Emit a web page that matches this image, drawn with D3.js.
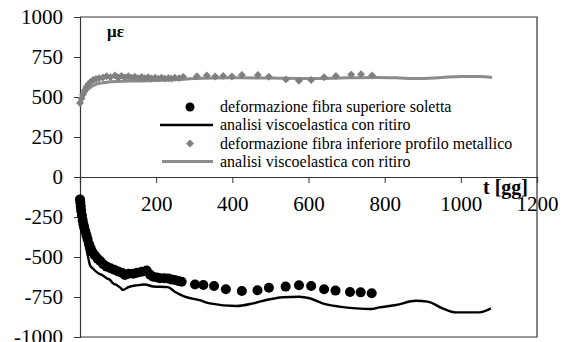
<!DOCTYPE html>
<html>
<head>
<meta charset="utf-8">
<script src="https://cdn.jsdelivr.net/npm/d3@7/dist/d3.min.js"></script>
<style>
  html, body { margin: 0; padding: 0; background: #fff; }
</style>
</head>
<body>
<svg id="chart" width="564" height="342"></svg>
<script>
// Tick values
const xTicks = [200, 400, 600, 800, 1000, 1200];
const yTicks = [1000, 750, 500, 250, 0, -250, -500, -750, -1000];

// Legend labels
const legendLabels = [
  "deformazione fibra superiore soletta",
  "analisi viscoelastica con ritiro",
  "deformazione fibra inferiore profilo metallico",
  "analisi viscoelastica con ritiro"
];

// Measured strain, top fibre of the slab: [t (days), με]
const slabMeasured = [
  [0, -140], [1, -160], [2, -185], [3, -210], [5, -240], [7, -270], [9, -295],
  [11, -315], [14, -340], [17, -365], [20, -390], [24, -420], [28, -445],
  [33, -470], [39, -490], [46, -510], [53, -525], [61, -545], [70, -560],
  [80, -570], [90, -580], [100, -590], [110, -598], [118, -612], [128, -605],
  [140, -605], [150, -598], [162, -592], [175, -585], [184, -610], [192, -623],
  [202, -628], [210, -633], [221, -633], [232, -635], [240, -640], [249, -644],
  [258, -650], [267, -655], [302, -672], [324, -675], [352, -681], [383, -702],
  [425, -712], [466, -708], [496, -692], [540, -685], [575, -677], [607, -681],
  [641, -702], [671, -710], [709, -719], [737, -721], [766, -727]
];

// Viscoelastic analysis with shrinkage, slab
const slabModel = [
  [0, -140], [5, -250], [10, -350], [16, -440], [22, -508], [26, -550],
  [35, -575], [48, -602], [60, -615], [70, -633], [79, -644], [87, -665],
  [96, -675], [105, -690], [113, -706], [127, -688], [149, -677], [170, -672],
  [192, -684], [231, -688], [249, -717], [275, -748], [314, -770], [341, -790],
  [411, -806], [454, -790], [489, -769], [533, -752], [576, -748], [603, -758],
  [637, -790], [681, -810], [725, -821], [764, -825], [786, -815], [830, -800],
  [882, -773], [913, -779], [952, -821], [987, -846], [1048, -846], [1079, -821]
];

// Measured strain, bottom fibre of the steel profile
const steelMeasured = [
  [0, 462], [4, 490], [8, 515], [12, 540], [17, 562], [22, 580], [28, 595],
  [35, 606], [42, 613], [50, 617], [60, 622], [70, 630], [80, 624], [92, 634],
  [100, 622], [109, 632], [118, 622], [127, 630], [135, 620], [144, 627],
  [153, 618], [162, 625], [170, 618], [179, 623], [188, 616], [197, 621],
  [205, 615], [214, 621], [223, 615], [232, 619], [240, 615], [249, 621],
  [260, 618], [271, 626], [307, 630], [333, 635], [355, 628], [376, 632],
  [399, 628], [425, 637], [467, 637], [496, 627], [541, 610], [575, 602],
  [607, 606], [641, 623], [672, 631], [712, 640], [738, 642], [767, 635]
];

// Viscoelastic analysis with shrinkage, steel profile
const steelModel = [
  [0, 460], [5, 485], [10, 510], [20, 545], [30, 565], [40, 578], [50, 585],
  [70, 592], [100, 597], [150, 600], [200, 603], [250, 608], [300, 615],
  [400, 620], [500, 618], [600, 615], [700, 620], [780, 622], [830, 620],
  [885, 615], [950, 622], [1000, 628], [1050, 628], [1082, 622]
];

const svg = d3.select("#chart");
const x = d3.scaleLinear().domain([0, 1200]).range([80, 537]);
const y = d3.scaleLinear().domain([-1000, 1000]).range([337, 17]);

const axisColor = "#333";
const black = "#000";
const gray = "#808080";
const fontStyle = (size, bold) =>
  `font-family:'Liberation Serif', serif; font-size:${size}px;` + (bold ? " font-weight:bold;" : "");

// Plot frame (top and right edges)
svg.append("path")
  .attr("d", `M${x(0)},${y(1000)}H${x(1200)}V${y(-1000)}H${x(0)}`)
  .attr("fill", "none").attr("stroke", axisColor).attr("stroke-width", 1.2);

// Y axis
const yAxis = svg.append("g")
  .attr("transform", `translate(${x(0)},0)`)
  .call(d3.axisLeft(y).tickValues(yTicks).tickSize(6).tickPadding(11)
    .tickFormat(d => String(d)))
  .attr("font-family", null).attr("font-size", null);
yAxis.select(".domain").attr("stroke", axisColor).attr("stroke-width", 1.2);
yAxis.selectAll(".tick line").attr("stroke", axisColor);
yAxis.selectAll("text").attr("style", fontStyle(21)).attr("fill", "#000");

// X axis through zero
const xAxis = svg.append("g")
  .attr("transform", `translate(0,${y(0)})`)
  .call(d3.axisBottom(x).tickValues(xTicks).tickSize(6).tickPadding(13)
    .tickFormat(d => String(d)))
  .attr("font-family", null).attr("font-size", null);
xAxis.select(".domain").attr("stroke", axisColor).attr("stroke-width", 1.2);
xAxis.selectAll(".tick line").attr("stroke", axisColor);
xAxis.selectAll("text").attr("style", fontStyle(21)).attr("fill", "#000");

const line = d3.line().x(d => x(d[0])).y(d => y(d[1])).curve(d3.curveMonotoneX);

// Steel profile series
svg.append("path").datum(steelModel)
  .attr("d", line).attr("fill", "none")
  .attr("stroke", "#8c8c8c").attr("stroke-width", 3);

const diamond = d3.symbol().type(d3.symbolDiamond2).size(40);
svg.append("g").selectAll("path").data(steelMeasured).join("path")
  .attr("d", diamond)
  .attr("transform", d => `translate(${x(d[0])},${y(d[1])})`)
  .attr("fill", gray);

// Slab series
svg.append("path").datum(slabModel)
  .attr("d", line).attr("fill", "none")
  .attr("stroke", black).attr("stroke-width", 2.4);

svg.append("g").selectAll("circle").data(slabMeasured).join("circle")
  .attr("cx", d => x(d[0])).attr("cy", d => y(d[1])).attr("r", 5)
  .attr("fill", black);

// Legend
const legend = svg.append("g");
const rowY = [107, 125, 143.5, 161.5];
legend.append("circle").attr("cx", 190).attr("cy", rowY[0]).attr("r", 4.5).attr("fill", black);
legend.append("line").attr("x1", 160).attr("x2", 213).attr("y1", rowY[1]).attr("y2", rowY[1])
  .attr("stroke", black).attr("stroke-width", 2.4);
legend.append("path").attr("d", diamond)
  .attr("transform", `translate(190,${rowY[2]})`).attr("fill", gray);
legend.append("line").attr("x1", 162).attr("x2", 213).attr("y1", rowY[3]).attr("y2", rowY[3])
  .attr("stroke", "#8c8c8c").attr("stroke-width", 3);
legend.selectAll("text").data(legendLabels).join("text")
  .attr("x", 220).attr("y", (d, i) => rowY[i] + 5)
  .attr("style", fontStyle(16)).attr("fill", "#000")
  .text(d => d);

// Axis titles
svg.append("text").attr("x", 107).attr("y", 37)
  .attr("style", fontStyle(17, true)).text("με");
svg.append("text").attr("x", 483).attr("y", 194)
  .attr("style", fontStyle(20, true)).text("t [gg]");
</script>
</body>
</html>
